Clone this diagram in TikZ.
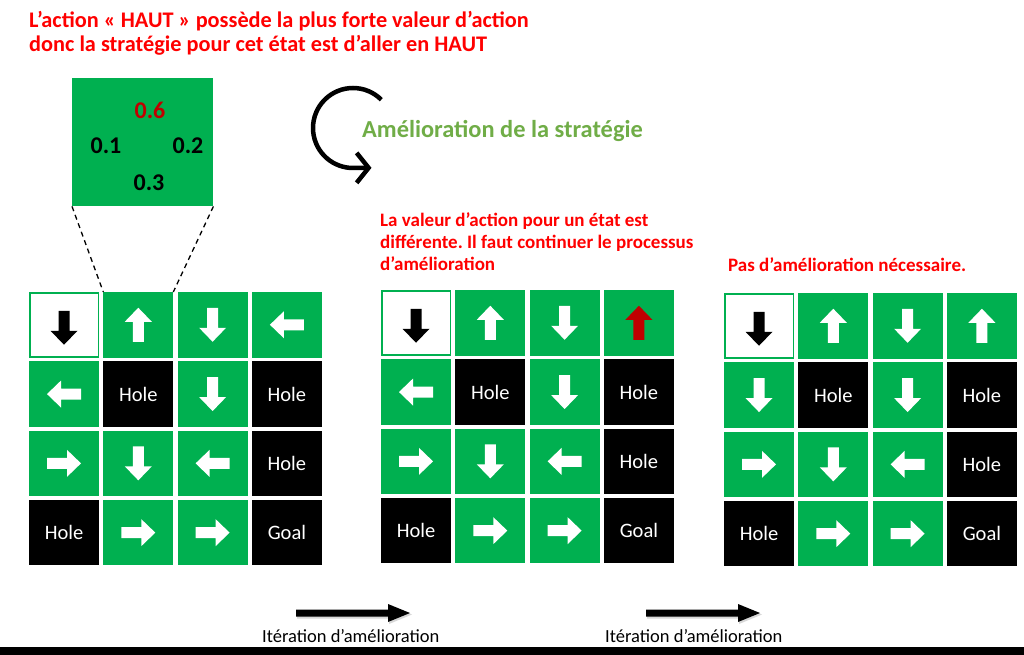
\documentclass[tikz,border=0pt]{standalone}
\usepackage{fontspec}
\setmainfont{Carlito}
\usetikzlibrary{arrows.meta}
\definecolor{cgreen}{HTML}{00B050}
\definecolor{dred}{HTML}{C00000}
\definecolor{tgreen}{HTML}{70AD47}
\definecolor{tred}{HTML}{FF0000}
\frenchspacing
\tikzset{
  cellbase/.style={minimum width=70pt, minimum height=65.5pt, inner sep=0pt, outer sep=0pt},
  g/.style={cellbase, fill=cgreen},
  w/.style={cellbase, fill=white, draw=cgreen, line width=1.5pt, minimum width=68.5pt, minimum height=64pt},
  h/.style={cellbase, fill=black, text=white, font=\fontsize{20.5}{23}\selectfont},
  redt/.style={text=tred, font=\bfseries\fontsize{22.3}{25}\selectfont, anchor=base west, inner sep=0pt},
  midt/.style={text=tred, font=\bfseries\fontsize{19}{22}\selectfont, anchor=base west, inner sep=0pt},
  itt/.style={text=black, font=\fontsize{18.5}{21}\selectfont, anchor=base west, inner sep=0pt},
  valt/.style={font=\bfseries\fontsize{24}{28}\selectfont, inner sep=0pt},
  barrow/.pic={\fill (-5.5pt,-17pt) -- (5.5pt,-17pt) -- (5.5pt,3pt) -- (13.5pt,3pt) -- (0pt,17pt) -- (-13.5pt,3pt) -- (-5.5pt,3pt) -- cycle;},
  bigarrow/.pic={
    \fill[black!25, opacity=.6] (1pt,-5.5pt) -- (93pt,-5.5pt) -- (93pt,-11pt) -- (116pt,-1.5pt) -- (93pt,8pt) -- (93pt,2pt) -- (1pt,2pt) -- cycle;
    \fill (0pt,-3.5pt) -- (92pt,-3.5pt) -- (92pt,-9pt) -- (114pt,0pt) -- (92pt,9pt) -- (92pt,3.5pt) -- (0pt,3.5pt) -- cycle;}
}
\newcommand\mkgrid[4]{%
  \node[w] (#111) at ({#2+35},{#3+32.75}) {};
  \pic[color=black,rotate=180] at ([yshift=-3pt]#111) {barrow};
  \foreach \r/\c in {2/2,2/4,3/4,4/1}{%
    \node[h] (#1\r\c) at ({#2+(\c-1)*74.3+35},{#3+(\r-1)*69.3+32.75}) {Hole};}
  \node[h] (#144) at ({#2+3*74.3+35},{#3+3*69.3+32.75}) {Goal};
  \foreach \r/\c/\a/\ac in {#4}{%
    \node[g] (#1\r\c) at ({#2+(\c-1)*74.3+35},{#3+(\r-1)*69.3+32.75}) {};
    \pic[color=\ac,rotate=\a] at (#1\r\c) {barrow};}
}
\begin{document}
\begin{tikzpicture}[x=1pt,y=-1pt]
\useasboundingbox (0,0) rectangle (1024,655);
\fill[white] (0,0) rectangle (1024,655);
% top text
\node[redt] (t1) at (29,27.5) {L’action « HAUT » possède la plus forte valeur d’action};
\node[redt] (t2) at (29,51.5) {donc la stratégie pour cet état est d’aller en HAUT};
% magnified cell
\node[fill=cgreen, minimum width=141pt, minimum height=128pt, inner sep=0pt, anchor=north west] (zoom) at (72,78) {};
\node[valt, text=dred] (v6) at (150,110) {0.6};
\node[valt] (v1) at (106,146) {0.1};
\node[valt] (v2) at (188,146) {0.2};
\node[valt] (v3) at (149,183) {0.3};
% grids
\mkgrid{a}{29}{292}{1/2/0/white, 1/3/180/white, 1/4/90/white, 2/1/90/white, 2/3/180/white, 3/1/-90/white, 3/2/180/white, 3/3/90/white, 4/2/-90/white, 4/3/-90/white}
\mkgrid{b}{381}{290}{1/2/0/white, 1/3/180/white, 1/4/0/dred, 2/1/90/white, 2/3/180/white, 3/1/-90/white, 3/2/180/white, 3/3/90/white, 4/2/-90/white, 4/3/-90/white}
\mkgrid{c}{724}{293}{1/2/0/white, 1/3/180/white, 1/4/0/white, 2/1/180/white, 2/3/180/white, 3/1/-90/white, 3/2/180/white, 3/3/90/white, 4/2/-90/white, 4/3/-90/white}
% dashed zoom lines
\draw[line width=1.3pt, dash pattern=on 5pt off 4pt] (zoom.south west) -- (a12.north west);
\draw[line width=1.3pt, dash pattern=on 5pt off 4pt] (zoom.south east) -- (a12.north east);
% curved arrow and title
\draw[line width=4.5pt, -{Straight Barb[length=12pt,width=30pt]}] ([shift={(45:40pt)}]353,128) arc[start angle=45, end angle=265, radius=40pt] -- ++(22,0);
\node[text=tgreen, font=\bfseries\fontsize{24.4}{28}\selectfont, anchor=base west, inner sep=0pt] (title) at (362,138) {Amélioration de la stratégie};
% middle text
\node[midt] (m1) at (380,226) {La valeur d’action pour un état est};
\node[midt] (m2) at (380,248) {différente. Il faut continuer le processus};
\node[midt] (m3) at (380,270) {d’amélioration};
\node[midt] (p1) at (728,271) {Pas d’amélioration nécessaire.};
% bottom arrows and labels
\pic at (296,613) {bigarrow};
\pic at (646,613) {bigarrow};
\node[itt] (i1) at (262,642) {Itération d’amélioration};
\node[itt] (i2) at (605,642) {Itération d’amélioration};
\fill[black] (0,647) rectangle (1024,655);
\end{tikzpicture}
\end{document}
